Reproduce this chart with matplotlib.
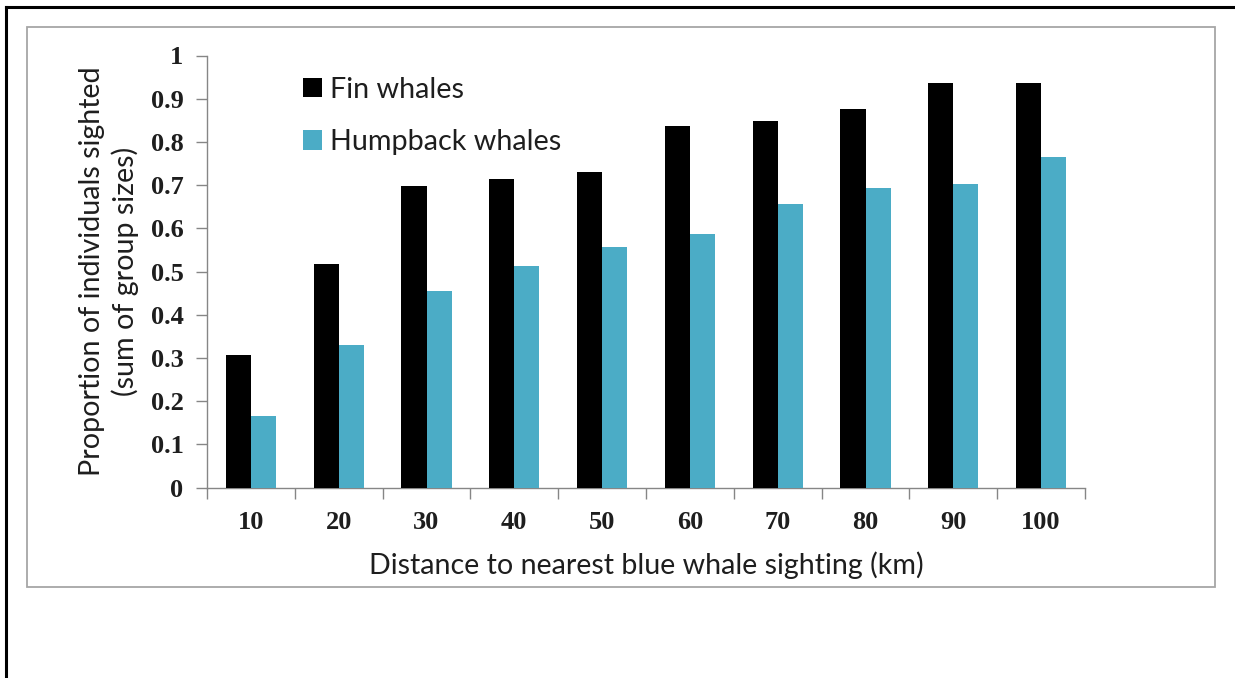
"""
Grouped bar chart: proportion of fin and humpback whale individuals sighted
within increasing distances of the nearest blue whale sighting.
"""
import matplotlib
matplotlib.use("Agg")
import matplotlib.pyplot as plt
from matplotlib.lines import Line2D
from matplotlib.patches import Rectangle, Patch
from matplotlib.ticker import FuncFormatter
import numpy as np

# -- Data ---------------------------------------------------------------------
distances = ["10", "20", "30", "40", "50", "60", "70", "80", "90", "100"]
fin_whales = [0.306, 0.518, 0.699, 0.714, 0.731, 0.837, 0.848, 0.877, 0.9375, 0.9375]
humpback_whales = [0.167, 0.330, 0.454, 0.512, 0.556, 0.588, 0.657, 0.693, 0.703, 0.765]
series_names = ["Fin whales", "Humpback whales"]

# -- Style --------------------------------------------------------------------
C_FIN = "#000000"
C_HUMP = "#4BACC6"
C_AXIS = "#868686"
C_BOX = "#A6A6A6"
C_TEXT = "#1E1E1E"
LABEL_FONT = "Lato"
TICK_FONT = "Liberation Serif"

W, H, DPI = 1235, 678, 100


def fx(px):
    return px / W


def fy(py):
    return 1 - py / H


fig = plt.figure(figsize=(W / DPI, H / DPI), dpi=DPI, facecolor="white")

# page frame and chart-area border
fig.add_artist(Line2D([fx(6), fx(6)], [fy(7), 0], color="black", lw=2.2))
fig.add_artist(Line2D([fx(6), 1], [fy(7), fy(7)], color="black", lw=2.2))
fig.add_artist(Rectangle((fx(27), fy(587)), fx(1215) - fx(27), fy(27) - fy(587),
                         fill=False, edgecolor=C_BOX, lw=1.3))

ax = fig.add_axes([fx(207), fy(487.7), fx(1085) - fx(207), fy(55.5) - fy(487.7)])

x = np.arange(len(distances))
bw = 0.285
ax.bar(x - bw / 2, fin_whales, bw, color=C_FIN, zorder=3)
ax.bar(x + bw / 2, humpback_whales, bw, color=C_HUMP, zorder=3)

ax.set_xlim(-0.5, len(distances) - 0.5)
ax.set_ylim(0, 1)

# category boundaries get the tick marks, labels sit at the centres
ax.set_xticks(np.arange(-0.5, len(distances), 1))
ax.set_xticklabels([])
ax.set_xticks(x, minor=True)
ax.set_xticklabels(distances, minor=True, fontfamily=TICK_FONT,
                   fontweight="bold", fontsize=19, color=C_TEXT)
ax.tick_params(axis="x", which="major", direction="out", length=8,
               color=C_AXIS, width=1)
ax.tick_params(axis="x", which="minor", length=0, pad=17)

ax.set_yticks(np.arange(0, 1.01, 0.1))
ax.yaxis.set_major_formatter(FuncFormatter(lambda v, _: f"{v:.1f}".rstrip("0").rstrip(".") if v else "0"))
ax.tick_params(axis="y", direction="out", length=8, color=C_AXIS, width=1, pad=9)
for lab in ax.get_yticklabels():
    lab.set_fontfamily(TICK_FONT)
    lab.set_fontweight("bold")
    lab.set_fontsize(19)
    lab.set_color(C_TEXT)

for side in ["top", "right"]:
    ax.spines[side].set_visible(False)
for side in ["left", "bottom"]:
    ax.spines[side].set_color(C_AXIS)
    ax.spines[side].set_linewidth(1)

ax.set_xlabel("Distance to nearest blue whale sighting (km)",
              fontfamily=LABEL_FONT, fontsize=20.6, labelpad=12, color=C_TEXT)
ax.set_ylabel("Proportion of individuals sighted\n(sum of group sizes)",
              fontfamily=LABEL_FONT, fontsize=20.6, labelpad=8, linespacing=1.3,
              color=C_TEXT)

handles = [Patch(facecolor=C_FIN), Patch(facecolor=C_HUMP)]
ax.legend(handles, series_names, loc="upper left",
          bbox_to_anchor=(fx(303), fy(76.5)), bbox_transform=fig.transFigure,
          frameon=False, borderpad=0, borderaxespad=0,
          handlelength=0.66, handleheight=0.66, handletextpad=0.28,
          labelspacing=0.92, prop=dict(family=LABEL_FONT, size=20.7),
          labelcolor=C_TEXT)

fig.savefig("out.png", dpi=DPI, facecolor="white")
